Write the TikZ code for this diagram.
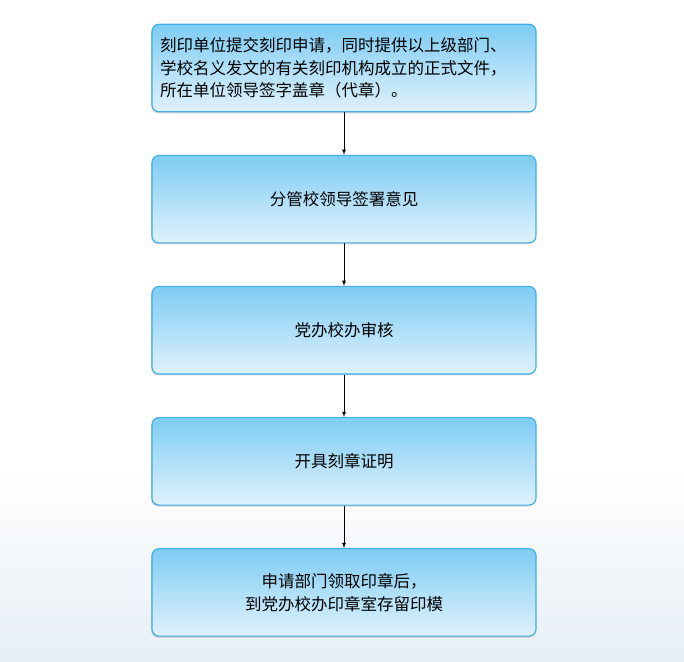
\documentclass[tikz,border=0pt]{standalone}
\usepackage{fontspec}
\setmainfont{Noto Sans CJK SC}
\usepackage{tikz}
\usetikzlibrary{positioning,shadows}
\definecolor{boxline}{HTML}{3FAEE6}
\definecolor{boxtop}{HTML}{7ECCF3}
\definecolor{boxbot}{HTML}{E0F2FC}
\definecolor{bgblue}{HTML}{E6EEF5}
\tikzset{
  stepbox/.style={draw=boxline,line width=1.1pt,rounded corners=7pt,
    top color=boxtop,bottom color=boxbot,
    minimum width=384pt,minimum height=87.5pt,text width=368pt,align=center,
    font=\fontsize{16.5}{22.5}\selectfont,
    drop shadow={shadow xshift=-0.8pt,shadow yshift=-1.5pt,opacity=0.35}},
  flow/.style={->,>=latex,thick}
}

\begin{document}
\begin{tikzpicture}[x=1pt,y=-1pt]
  \useasboundingbox (0,0) rectangle (684,661);
  \fill[top color=white,bottom color=bgblue] (0,470) rectangle (684,661);
  \node[stepbox,align=left] (apply) at (344,68)
    {刻印单位提交刻印申请，同时提供以上级部门、\\学校名义发文的有关刻印机构成立的正式文件，\\所在单位领导签字盖章（代章）。};
  \node[stepbox,below=42.5pt of apply] (sign) {分管校领导签署意见};
  \node[stepbox,below=42.5pt of sign] (check) {党办校办审核};
  \node[stepbox,below=42.5pt of check] (proof) {开具刻章证明};
  \node[stepbox,below=42.5pt of proof] (keep) {申请部门领取印章后，\\到党办校办印章室存留印模};
  \draw[flow] (apply) -- (sign);
  \draw[flow] (sign) -- (check);
  \draw[flow] (check) -- (proof);
  \draw[flow] (proof) -- (keep);
\end{tikzpicture}
\end{document}
